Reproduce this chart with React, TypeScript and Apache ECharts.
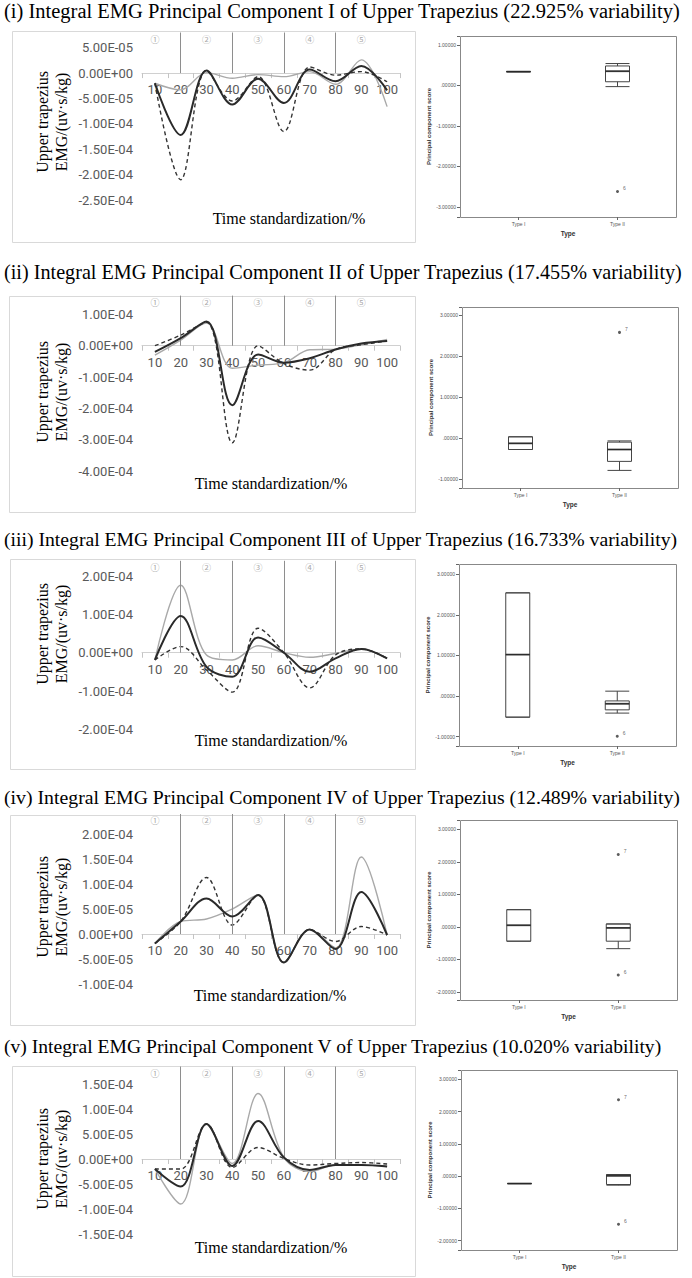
import React, { useEffect, useRef } from 'react';
import * as echarts from 'echarts';

// ---------- data ----------
const CATEGORIES = ['10', '20', '30', '40', '50', '60', '70', '80', '90', '100'];
const DIVIDERS = ['20', '40', '60', '80'];
const ZONE_LABELS = ['①', '', '②', '', '③', '', '④', '', '⑤', ''];
const BOX_CATS = ['Type I', 'Type II'];

const TITLES = [
  '(i) Integral EMG Principal Component I of Upper Trapezius (22.925% variability)',
  '(ii) Integral EMG Principal Component II of Upper Trapezius (17.455% variability)',
  '(iii) Integral EMG Principal Component III of Upper Trapezius (16.733% variability)',
  '(iv) Integral EMG Principal Component IV of Upper Trapezius (12.489% variability)',
  '(v) Integral EMG Principal Component V of Upper Trapezius (10.020% variability)',
];

// Panel I
const P1_SOLID = [-2.0e-5, -1.22e-4, 5e-6, -6.2e-5, -1.1e-5, -5.9e-5, 7e-6, -1.6e-5, 1.4e-5, -3.4e-5];
const P1_DASHED = [-2.0e-5, -2.1e-4, 5e-6, -5.5e-5, -7e-6, -1.15e-4, 1.2e-5, -4e-6, 3e-6, -1.7e-5];
const P1_GRAY = [-2.0e-5, -3.3e-5, 1e-6, -1e-5, -3e-6, -7e-6, 3e-6, -2.2e-5, 2.6e-5, -6.6e-5];
// Panel II
const P2_SOLID = [-2.0e-5, 2.4e-5, 7.7e-5, -1.9e-4, -2.8e-5, -5.4e-5, -4.0e-5, -1.2e-5, 7e-6, 1.5e-5];
const P2_DASHED = [0, 3.4e-5, 7.5e-5, -3.1e-4, 0, -5.7e-5, -7.8e-5, -1.2e-5, 3e-6, 1.5e-5];
const P2_GRAY = [-3.0e-5, 1.8e-5, 7.2e-5, -7.2e-5, -6.2e-5, -5.5e-5, -1.3e-5, -1.1e-5, 3e-6, 2.0e-5];
// Panel III
const P3_SOLID = [-1.9e-5, 9.6e-5, -3.7e-5, -6.3e-5, 4.0e-5, 0, -5.0e-5, -1.5e-5, 1.0e-5, -1.5e-5];
const P3_DASHED = [-1.9e-5, 1.6e-5, -4.5e-5, -1.03e-4, 6.4e-5, 0, -9.2e-5, -6e-6, 1.0e-5, -1.5e-5];
const P3_GRAY = [-1.9e-5, 1.76e-4, -6e-6, -1.9e-5, 1.8e-5, 0, -1.2e-5, -2e-6, 1.0e-5, -1.5e-5];
// Panel IV
const P4_SOLID = [-1.9e-5, 2.5e-5, 7.1e-5, 3.5e-5, 7.8e-5, -5.7e-5, 9e-6, -3.0e-5, 8.4e-5, -2e-6];
const P4_DASHED = [-1.9e-5, 2.5e-5, 1.13e-4, 1.8e-5, 7.8e-5, -5.7e-5, 9e-6, -1.5e-5, 1.5e-5, -2e-6];
const P4_GRAY = [-1.9e-5, 2.5e-5, 3.0e-5, 5.0e-5, 7.8e-5, -5.7e-5, 9e-6, -2.8e-5, 1.54e-4, -2e-6];
// Panel V
const P5_SOLID = [-2.0e-5, -5.5e-5, 7.0e-5, -1.4e-5, 7.6e-5, 3e-6, -2.2e-5, -1.2e-5, -1.2e-5, -1.5e-5];
const P5_DASHED = [-2.0e-5, -2.0e-5, 7.0e-5, -1.7e-5, 2.3e-5, 1e-6, -1.2e-5, -9e-6, -7e-6, -1.0e-5];
const P5_GRAY = [-2.0e-5, -9.0e-5, 7.0e-5, -9e-6, 1.31e-4, 3e-6, -2.5e-5, -1.2e-5, -1.2e-5, -1.5e-5];

const SOLIDS = [P1_SOLID, P2_SOLID, P3_SOLID, P4_SOLID, P5_SOLID];
const DASHEDS = [P1_DASHED, P2_DASHED, P3_DASHED, P4_DASHED, P5_DASHED];
const GRAYS = [P1_GRAY, P2_GRAY, P3_GRAY, P4_GRAY, P5_GRAY];

// value-axis ranges of the line charts
const Y_MIN = [-2.5e-4, -4e-4, -2e-4, -1e-4, -1.5e-4];
const Y_MAX = [8e-5, 1.6e-4, 2.4e-4, 2.4e-4, 1.85e-4];
const Y_STEP = [5e-5, 1e-4, 1e-4, 5e-5, 5e-5];

// boxplots: [min, Q1, median, Q3, max] for Type I, Type II
const P1_BOX = [[0.34, 0.34, 0.34, 0.34, 0.34], [-0.03, 0.09, 0.35, 0.48, 0.54]];
const P2_BOX = [[-0.28, -0.28, -0.13, 0.03, 0.03], [-0.79, -0.57, -0.28, -0.1, -0.07]];
const P3_BOX = [[-0.52, -0.52, 1.02, 2.54, 2.54], [-0.42, -0.34, -0.19, -0.12, 0.12]];
const P4_BOX = [[-0.44, -0.44, 0.05, 0.53, 0.53], [-0.67, -0.44, -0.03, 0.09, 0.09]];
const P5_BOX = [[-0.23, -0.23, -0.23, -0.23, -0.23], [-0.28, -0.26, 0.01, 0.05, 0.05]];
const BOXES = [P1_BOX, P2_BOX, P3_BOX, P4_BOX, P5_BOX];

// outliers: [category, value, case label]
const P1_OUT: [string, number, string][] = [['Type II', -2.62, '6']];
const P2_OUT: [string, number, string][] = [['Type II', 2.58, '7']];
const P3_OUT: [string, number, string][] = [['Type II', -0.99, '6']];
const P4_OUT: [string, number, string][] = [['Type II', 2.23, '7'], ['Type II', -1.48, '6']];
const P5_OUT: [string, number, string][] = [['Type II', 2.37, '7'], ['Type II', -1.49, '6']];
const OUTS = [P1_OUT, P2_OUT, P3_OUT, P4_OUT, P5_OUT];

const B_MIN = [-3.25, -1.22, -1.23, -2.25, -2.29];
const B_MAX = [1.22, 3.2, 3.25, 3.29, 3.29];

// ---------- layout ----------
const LAYOUT = [
  { titleY: 11, titleSize: 20.5, frame: [12, 31, 403, 211], top: 32.5, bottom: 200, xName: [289, 218], yNameY: 122, box: [460, 36, 216, 181] },
  { titleY: 272, titleSize: 20.2, frame: [9, 296, 406, 216], top: 295.6, bottom: 471, xName: [271, 483], yNameY: 392, box: [462, 307, 216, 181] },
  { titleY: 539, titleSize: 19.7, frame: [10, 559, 405, 210], top: 560.8, bottom: 729.3, xName: [271, 740], yNameY: 634, box: [459, 564, 217, 182] },
  { titleY: 797, titleSize: 19.8, frame: [10, 815, 405, 210], top: 814, bottom: 984, xName: [270, 995], yNameY: 907, box: [460, 820, 217, 180] },
  { titleY: 1046, titleSize: 19.6, frame: [12, 1066, 403, 210], top: 1066.5, bottom: 1234, xName: [271, 1247], yNameY: 1159, box: [461, 1070, 216, 180] },
];

const SERIF = '"Liberation Serif", "Times New Roman", serif';
const SANS = 'Roboto, "Noto Sans", sans-serif';
const ARIAL = '"Liberation Sans", Arial, sans-serif';
const CIRC = '"Noto Sans CJK SC", "DejaVu Sans", sans-serif';
const SMOOTH = 0.35;
const BOX_PAD = 9;

function sci(v: number): string {
  if (Math.abs(v) < 1e-12) return '0.00E+00';
  const [m, e] = v.toExponential(2).split('e');
  const sign = e[0] === '-' ? '-' : '+';
  const d = e.replace(/^[+-]/, '').padStart(2, '0');
  return `${m}E${sign}${d}`;
}
function spss(v: number): string {
  if (Math.abs(v - Math.round(v)) > 1e-6) return '';
  if (Math.abs(v) < 1e-9) return '.00000';
  return v.toFixed(5);
}

function buildOption() {
  const grid: any[] = [];
  const xAxis: any[] = [];
  const yAxis: any[] = [];
  const series: any[] = [];
  const graphic: any[] = [];

  for (let i = 0; i < 5; i++) {
    const L = LAYOUT[i];
    const step = Y_STEP[i];
    const h = L.bottom - L.top;
    // distance from grid bottom up to the value-0 line, so the category axis sits on zero
    const zeroLift = (h * (0 - Y_MIN[i])) / (Y_MAX[i] - Y_MIN[i]);

    grid.push({ left: 142, top: L.top, width: 258, height: h, show: false, outerBoundsMode: 'none' });
    const [bx, by, bw, bh] = L.box;
    grid.push({ left: bx + BOX_PAD, top: by, width: bw - 2 * BOX_PAD, height: bh, show: false, outerBoundsMode: 'none' });

    xAxis.push({
      type: 'category', gridIndex: 2 * i, data: CATEGORIES, boundaryGap: true, position: 'bottom',
      offset: -zeroLift,
      axisLine: { show: true, onZero: false, lineStyle: { color: '#d0d0d0', width: 1 } },
      axisTick: { show: true, length: 5, lineStyle: { color: '#c4c4c4' } },
      axisLabel: { color: '#595959', fontFamily: SANS, fontSize: 13, margin: 10, interval: 0 },
      splitLine: { show: false },
    });
    xAxis.push({
      type: 'category', gridIndex: 2 * i, position: 'top', data: ZONE_LABELS, boundaryGap: true,
      axisLine: { show: false, onZero: false }, axisTick: { show: false }, splitLine: { show: false },
      axisLabel: { inside: true, interval: 0, color: '#a8a8a8', fontSize: 9, margin: 2, fontFamily: CIRC },
    });
    xAxis.push({
      type: 'category', gridIndex: 2 * i + 1, data: BOX_CATS,
      axisLine: { show: false, onZero: false },
      axisTick: { show: true, alignWithLabel: true, length: 3, lineStyle: { color: '#666' } },
      axisLabel: { fontSize: 5, color: '#555', margin: 4, fontFamily: ARIAL },
      splitLine: { show: false },
      name: 'Type', nameLocation: 'middle', nameGap: 13,
      nameTextStyle: { fontSize: 6.5, fontWeight: 'bold', color: '#333', fontFamily: ARIAL },
    });

    yAxis.push({
      type: 'value', gridIndex: 2 * i, min: Y_MIN[i], max: Y_MAX[i], interval: step,
      axisLine: { show: false, onZero: false }, axisTick: { show: false }, splitLine: { show: false },
      axisLabel: {
        color: '#595959', fontFamily: SANS, fontSize: 13, margin: 9,
        formatter: (v: number) => (Math.abs(v / step - Math.round(v / step)) > 1e-6 ? '' : sci(v)),
      },
    });
    yAxis.push({
      type: 'value', gridIndex: 2 * i + 1, min: B_MIN[i], max: B_MAX[i], splitNumber: 5, offset: BOX_PAD,
      axisLine: { show: false, onZero: false }, splitLine: { show: false },
      axisTick: { show: true, length: 3, lineStyle: { color: '#666' } },
      axisLabel: { fontSize: 5, color: '#555', margin: 4, formatter: spss, fontFamily: ARIAL },
      name: 'Principal component score', nameLocation: 'middle', nameRotate: 90, nameGap: 25,
      nameTextStyle: { fontSize: 6, fontWeight: 'bold', color: '#333', fontFamily: ARIAL },
    });

    const xi = 3 * i;
    const yi = 2 * i;
    series.push({
      type: 'line', name: 'Mean − PC', xAxisIndex: xi, yAxisIndex: yi, data: GRAYS[i],
      smooth: SMOOTH, symbol: 'none', lineStyle: { color: '#a9a9a9', width: 1.4 }, z: 3,
    });
    series.push({
      type: 'line', name: 'Mean + PC', xAxisIndex: xi, yAxisIndex: yi, data: DASHEDS[i],
      smooth: SMOOTH, symbol: 'none', lineStyle: { color: '#333', width: 1.4, type: [4, 3] }, z: 4,
    });
    series.push({
      type: 'line', name: 'Mean', xAxisIndex: xi, yAxisIndex: yi, data: SOLIDS[i],
      smooth: SMOOTH, symbol: 'none', lineStyle: { color: '#2a2a2a', width: 2 }, z: 5,
      markLine: {
        silent: true, symbol: ['none', 'none'], label: { show: false },
        lineStyle: { color: '#8e8e8e', width: 1, type: 'solid' },
        data: DIVIDERS.map((c) => [{ coord: [c, 0] }, { coord: [c, Y_MAX[i]] }]),
      },
    });

    const bxi = 3 * i + 2;
    const byi = 2 * i + 1;
    series.push({
      type: 'boxplot', xAxisIndex: bxi, yAxisIndex: byi, data: BOXES[i], boxWidth: [24, 24],
      itemStyle: { color: '#fff', borderColor: '#444', borderWidth: 1 }, z: 3,
    });
    series.push({
      type: 'scatter', xAxisIndex: bxi, yAxisIndex: byi, symbol: 'rect', symbolSize: [24, 1.8],
      data: BOXES[i].map((b, k) => [BOX_CATS[k], b[2]]), itemStyle: { color: '#222' }, z: 4, silent: true,
    });
    series.push({
      type: 'scatter', xAxisIndex: bxi, yAxisIndex: byi, symbol: 'circle', symbolSize: 3,
      data: OUTS[i].map((o) => ({ name: o[2], value: [o[0], o[1]] })),
      itemStyle: { color: '#333' }, z: 4,
      label: { show: true, position: 'right', formatter: '{b}', fontSize: 5, color: '#444', offset: [-1, -3], fontFamily: ARIAL },
    });

    // decorations
    graphic.push({
      type: 'text', x: 4, y: L.titleY, silent: true,
      style: { text: TITLES[i], fontSize: L.titleSize, fontFamily: SERIF, fill: '#000', align: 'left', verticalAlign: 'middle' },
    });
    const [fx, fy, fw, fh] = L.frame;
    graphic.push({
      type: 'rect', silent: true, shape: { x: fx + 0.5, y: fy + 0.5, width: fw, height: fh },
      style: { fill: 'none', stroke: '#d9d9d9', lineWidth: 1 },
    });
    graphic.push({
      type: 'rect', silent: true, shape: { x: bx + 0.5, y: by + 0.5, width: bw, height: bh },
      style: { fill: 'none', stroke: '#888', lineWidth: 1 },
    });
    graphic.push({
      type: 'text', x: L.xName[0], y: L.xName[1], silent: true,
      style: { text: 'Time standardization/%', fontSize: 16, fontFamily: SERIF, fill: '#000', align: 'center', verticalAlign: 'middle' },
    });
    graphic.push({
      type: 'text', x: 52, y: L.yNameY, rotation: Math.PI / 2, silent: true,
      style: {
        text: 'Upper trapezius\nEMG/(uv·s/kg)', fontSize: 16, lineHeight: 19, fontFamily: SERIF,
        fill: '#000', align: 'center', verticalAlign: 'middle',
      },
    });
  }

  return { animation: false, backgroundColor: '#fff', grid, xAxis, yAxis, series, graphic };
}

export default function App() {
  const ref = useRef<HTMLDivElement>(null);
  useEffect(() => {
    document.body.style.margin = '0';
    if (!ref.current) return;
    const chart = echarts.init(ref.current, undefined, { renderer: 'svg' });
    chart.setOption(buildOption());
    return () => chart.dispose();
  }, []);
  return <div ref={ref} style={{ width: 692, height: 1278 }} />;
}
